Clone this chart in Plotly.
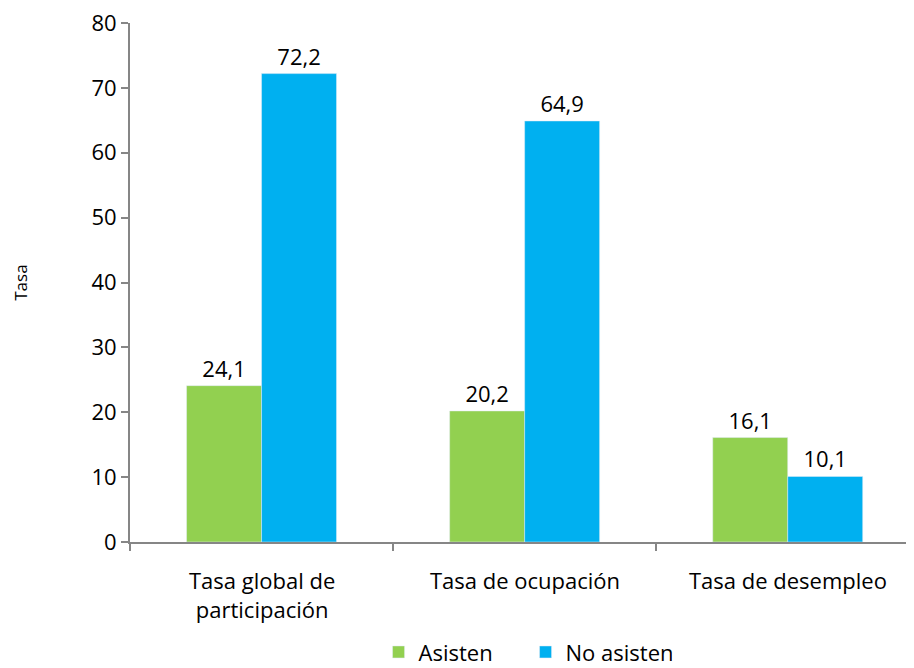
import plotly.graph_objects as go

categories = ["Tasa global de<br>participación", "Tasa de ocupación", "Tasa de desempleo"]
asisten = [24.1, 20.2, 16.1]
no_asisten = [72.2, 64.9, 10.1]
y_ticks = [0, 10, 20, 30, 40, 50, 60, 70, 80]

FONT = "Open Sans"
FS = 22
x = list(range(len(categories)))

fig = go.Figure()
fig.add_trace(go.Bar(x=x, y=asisten, name="Asisten", marker_color="#92D050",
                     text=asisten, texttemplate="%{y:.1f}", textposition="outside",
                     textfont=dict(size=FS, color="#000000"), cliponaxis=False))
fig.add_trace(go.Bar(x=x, y=no_asisten, name="No asisten", marker_color="#00B0F0",
                     text=no_asisten, texttemplate="%{y:.1f}", textposition="outside",
                     textfont=dict(size=FS, color="#000000"), cliponaxis=False))

for i, c in enumerate(categories):
    fig.add_annotation(x=i, y=-0.04, xref="x", yref="paper", text=c, showarrow=False,
                       yanchor="top", font=dict(size=FS, color="#000000", family=FONT))

fig.add_annotation(x=-0.14, y=0.5, xref="paper", yref="paper", text="Tasa", textangle=-90,
                   xanchor="center", yanchor="middle",
                   showarrow=False, font=dict(size=17, color="#000000", family=FONT))

fig.update_layout(
    width=906, height=660,
    margin=dict(l=122, r=0, t=15, b=126),
    paper_bgcolor="white", plot_bgcolor="white",
    separators=",.",
    barmode="group", bargap=0.43, bargroupgap=0,
    font=dict(family=FONT, size=FS, color="#000000"),
    showlegend=True,
    legend=dict(orientation="h", xref="container", yref="container", x=0.409, xanchor="left",
                y=0.024, yanchor="middle", font=dict(size=FS), itemwidth=30,
                entrywidth=102, entrywidthmode="pixels", traceorder="normal"),
    xaxis=dict(range=[-0.5, 2.48], showgrid=False, zeroline=False, showline=True, automargin=False,
               linecolor="#868686", linewidth=2, tickmode="array", tickvals=[-0.5, 0.5, 1.5],
               ticktext=["", "", ""], ticks="outside", ticklen=7, tickcolor="#868686", tickwidth=2),
    yaxis=dict(range=[0, 80], tickmode="array", tickvals=y_ticks, showgrid=False, zeroline=False,
               showline=True, automargin=False, linecolor="#868686", linewidth=2, ticks="outside",
               ticklen=7, tickcolor="#868686", tickwidth=2, tickfont=dict(size=FS),
               ticklabeloverflow="allow"),
)

fig.write_html("out.html")
